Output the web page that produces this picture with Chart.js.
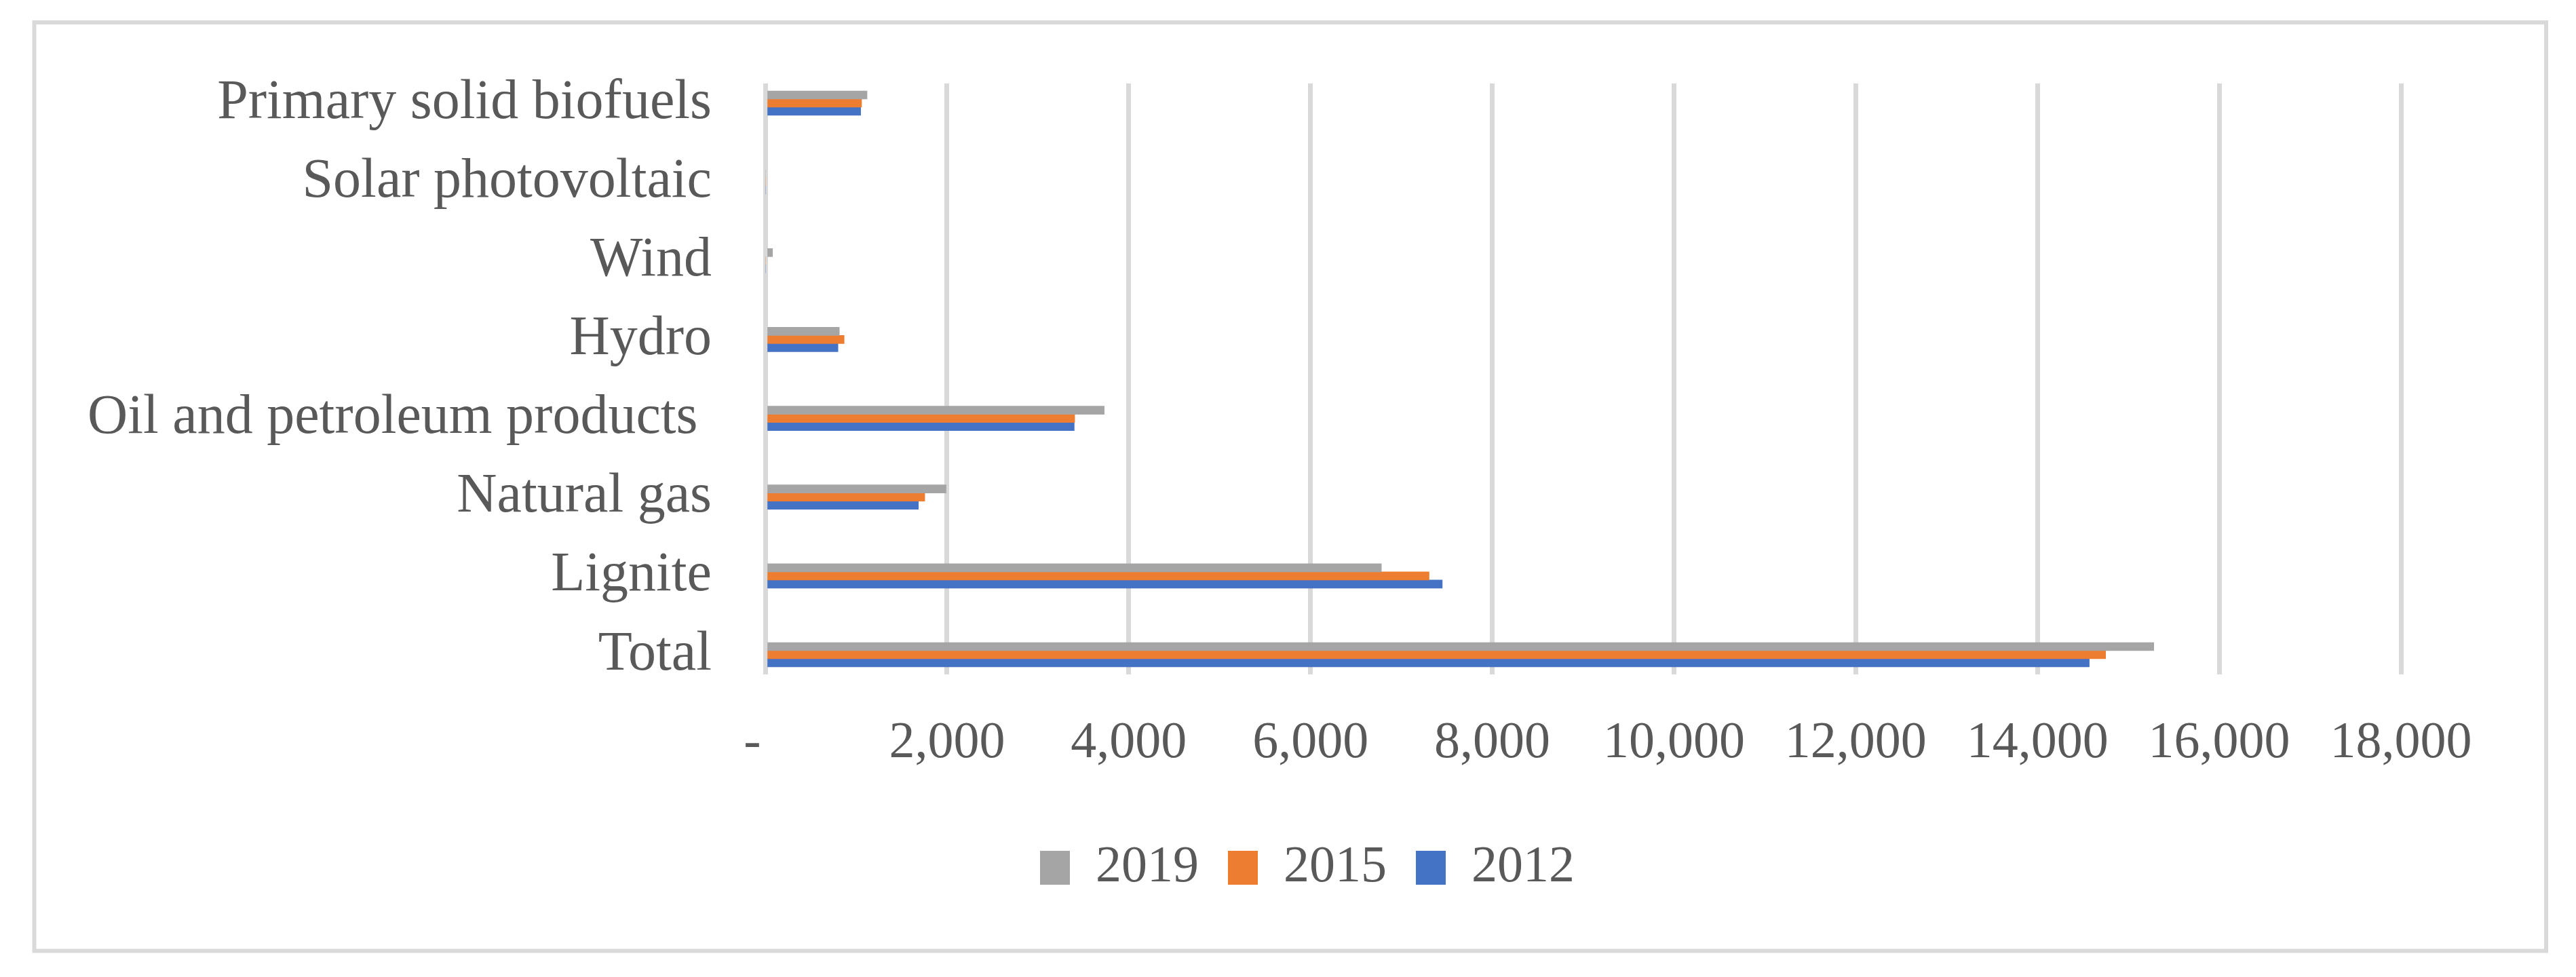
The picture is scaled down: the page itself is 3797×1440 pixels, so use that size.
<!DOCTYPE html>
<html>
<head>
<meta charset="utf-8">
<title>Energy by source</title>
<script src="https://cdn.jsdelivr.net/npm/chart.js@4.4.1/dist/chart.umd.min.js"></script>
<style>
    html, body { margin: 0; padding: 0; background: #ffffff; }
    canvas { display: block; }
</style>
</head>
<body>
<canvas id="energy-chart" width="3797" height="1440"></canvas>
<script>
const categories = [
    'Total',
    'Lignite',
    'Natural gas',
    'Oil and petroleum products ',
    'Hydro',
    'Wind',
    'Solar photovoltaic',
    'Primary solid biofuels',
];
const values2019 = [15280, 6780, 1990, 3730, 815, 80, 0, 1120];
const values2015 = [14750, 7305, 1755, 3405, 868, 0, 0, 1060];
const values2012 = [14570, 7450, 1685, 3400, 800, 0, 0, 1050];

const xTicks = [0, 2000, 4000, 6000, 8000, 10000, 12000, 14000, 16000, 18000];
const xTickLabels = ['-  ', '2,000', '4,000', '6,000', '8,000', '10,000', '12,000', '14,000', '16,000', '18,000'];

const FONT = "'Liberation Serif', 'Times New Roman', serif";
const TEXT = '#595959';
const GRID = '#d9d9d9';

const frame = {
    id: 'frame',
    beforeDraw(chart) {
        const { ctx } = chart;
        ctx.save();
        ctx.strokeStyle = GRID;
        ctx.lineWidth = 6;
        ctx.strokeRect(50.5, 33, 3702.5, 1368.5);
        ctx.restore();
    },
};

function barDataset(label, data, color) {
    return {
        label,
        data,
        backgroundColor: color,
        borderWidth: 0,
        barThickness: 12,
    };
}

new Chart(document.getElementById('energy-chart'), {
    type: 'bar',
    data: {
        labels: categories.map((c, i) => i),
        datasets: [
            barDataset('2019', values2019, '#a5a5a5'),
            barDataset('2015', values2015, '#ed7d31'),
            barDataset('2012', values2012, '#4472c4'),
        ],
    },
    options: {
        indexAxis: 'y',
        responsive: false,
        animation: false,
        layout: {
            padding: { left: 60, right: 3, top: 123, bottom: 113 },
        },
        plugins: {
            legend: {
                position: 'bottom',
                labels: {
                    color: TEXT,
                    boxWidth: 44,
                    boxHeight: 50,
                    padding: 43,
                    font: { family: FONT, size: 76 },
                },
            },
            tooltip: { enabled: false },
        },
        scales: {
            x: {
                type: 'linear',
                min: 0,
                max: 18000,
                afterBuildTicks(scale) {
                    scale.ticks = xTicks.map((v) => ({ value: v }));
                },
                grid: { color: GRID, lineWidth: 7, drawTicks: false },
                border: { display: false },
                ticks: {
                    color: TEXT,
                    padding: 24,
                    autoSkip: false,
                    maxRotation: 0,
                    font: { family: FONT, size: 76, lineHeight: 2.0526 },
                    callback: (v, i) => xTickLabels[i],
                },
            },
            y: {
                type: 'linear',
                offset: false,
                min: -0.25,
                max: 7.25,
                afterBuildTicks(scale) {
                    scale.ticks = categories.map((c, i) => ({ value: i }));
                },
                afterFit(scale) {
                    scale.width = 1068;
                },
                grid: { display: false, drawTicks: false },
                border: { display: false },
                ticks: {
                    color: TEXT,
                    padding: 79,
                    autoSkip: false,
                    font: { family: FONT, size: 82, lineHeight: 1 },
                    callback: (v) => categories[v],
                },
            },
            yRight: {
                type: 'linear',
                position: 'right',
                afterFit(scale) {
                    scale.width = 255;
                },
                grid: { display: false, drawTicks: false },
                border: { display: false },
                ticks: { display: false },
            },
        },
    },
    plugins: [frame],
});
</script>
</body>
</html>
